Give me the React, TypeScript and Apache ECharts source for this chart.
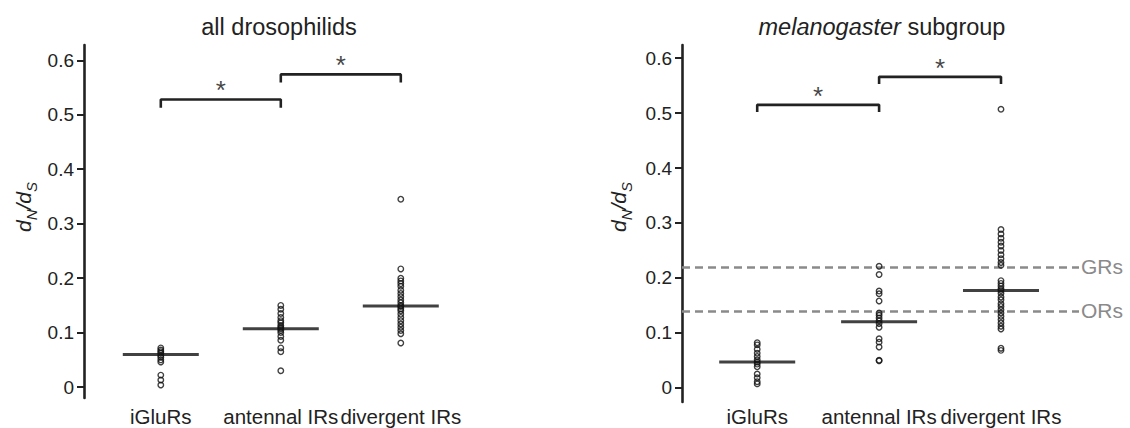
import React, { useEffect, useRef } from "react";
import * as echarts from "echarts";

const FONT = "'Liberation Sans', Arial, Helvetica, sans-serif";
const INK = "#222";
const GREY = "#8a8a8a";

const categories = ["iGluRs", "antennal IRs", "divergent IRs"];
const panelTitles = ["all drosophilids", "{i|melanogaster} subgroup"];
const yTickValues = [0, 0.1, 0.2, 0.3, 0.4, 0.5, 0.6];
const yTickLabels = ["0", "0.1", "0.2", "0.3", "0.4", "0.5", "0.6"];

// all drosophilids
const leftIGluRs = [0.072, 0.068, 0.065, 0.062, 0.058, 0.055, 0.05, 0.046, 0.022, 0.013, 0.004];
const leftAntennal = [0.15, 0.143, 0.135, 0.128, 0.122, 0.118, 0.113, 0.11, 0.107, 0.104, 0.1, 0.093, 0.086, 0.072, 0.065, 0.03];
const leftDivergent = [0.345, 0.217, 0.2, 0.195, 0.19, 0.185, 0.178, 0.172, 0.166, 0.16, 0.155, 0.15, 0.148, 0.144, 0.14, 0.134, 0.128, 0.122, 0.116, 0.11, 0.104, 0.098, 0.081];
const leftMedians = [0.06, 0.107, 0.149];
const leftBrackets = [[1, 2, 0.528], [2, 3, 0.574]];

// melanogaster subgroup
const rightIGluRs = [0.082, 0.078, 0.07, 0.063, 0.057, 0.051, 0.047, 0.043, 0.038, 0.025, 0.018, 0.011, 0.007];
const rightAntennal = [0.221, 0.206, 0.176, 0.171, 0.158, 0.136, 0.132, 0.127, 0.122, 0.117, 0.11, 0.089, 0.083, 0.074, 0.05, 0.049];
const rightDivergent = [0.507, 0.288, 0.28, 0.272, 0.265, 0.258, 0.25, 0.242, 0.235, 0.228, 0.223, 0.195, 0.19, 0.185, 0.18, 0.177, 0.172, 0.165, 0.16, 0.153, 0.148, 0.142, 0.136, 0.13, 0.124, 0.118, 0.112, 0.107, 0.072, 0.068];
const rightMedians = [0.047, 0.12, 0.177];
const rightBrackets = [[1, 2, 0.515], [2, 3, 0.566]];

const refLabels = ["GRs", "ORs"];
const refValues = [0.217, 0.137];

const panels = [
  { groups: [leftIGluRs, leftAntennal, leftDivergent], medians: leftMedians, brackets: leftBrackets, leg: 0.015 },
  { groups: [rightIGluRs, rightAntennal, rightDivergent], medians: rightMedians, brackets: rightBrackets, leg: 0.013 },
];

function buildOption() {
  const series: any[] = [];
  panels.forEach((p, pi) => {
    const medSeries: any = {
      type: "scatter",
      xAxisIndex: pi,
      yAxisIndex: pi,
      symbol: "rect",
      symbolSize: [76, 3],
      itemStyle: { color: "#111" },
      z: 2,
      data: p.medians.map((m, i) => [i + 1, m]),
    };
    if (pi === 1) {
      medSeries.markLine = {
        silent: true,
        symbol: "none",
        z: 1,
        lineStyle: { color: GREY, width: 2.5, type: [8, 5] },
        label: {
          show: true,
          position: "end",
          formatter: "{b}",
          color: GREY,
          fontSize: 21,
          fontFamily: FONT,
          distance: 2,
        },
        data: refValues.map((v, i) => ({ yAxis: v, name: refLabels[i] })),
      };
    }
    series.push(medSeries);
    series.push({
      type: "scatter",
      xAxisIndex: pi,
      yAxisIndex: pi,
      symbol: "circle",
      symbolSize: 5.5,
      z: 3,
      itemStyle: { color: "rgba(0,0,0,0)", borderColor: "#111", borderWidth: 1.4 },
      data: p.groups.flatMap((g, gi) => g.map((v) => [gi + 1, v])),
    });
    p.brackets.forEach((b) => {
      series.push({
        type: "line",
        xAxisIndex: pi,
        yAxisIndex: pi,
        symbol: "none",
        z: 3,
        lineStyle: { color: INK, width: 2.6 },
        data: [
          [b[0], b[2] - p.leg],
          [b[0], b[2]],
          [b[1], b[2]],
          [b[1], b[2] - p.leg],
        ],
      });
    });
    series.push({
      type: "scatter",
      xAxisIndex: pi,
      yAxisIndex: pi,
      symbolSize: 0,
      z: 4,
      label: {
        show: true,
        position: "inside",
        formatter: "*",
        color: "#111",
        fontSize: 26,
        fontFamily: FONT,
        offset: [0, -9],
      },
      data: p.brackets.map((b) => [(b[0] + b[1]) / 2, b[2]]),
    });
  });

  const yAxis = (gi: number, min: number, max: number) => ({
    gridIndex: gi,
    type: "value",
    min,
    max,
    axisLine: { show: true, lineStyle: { color: INK, width: 2.6 } },
    axisTick: { show: true, length: 7, lineStyle: { color: INK, width: 2 }, customValues: yTickValues },
    axisLabel: {
      customValues: yTickValues,
      formatter: (v: number) => {
        const i = yTickValues.findIndex((t) => Math.abs(t - v) < 1e-6);
        return i >= 0 ? yTickLabels[i] : "";
      },
      fontSize: 19,
      color: INK,
      fontFamily: FONT,
      margin: 10,
    },
    splitLine: { show: false },
  });

  const xAxis = (gi: number, min: number, max: number, margin: number) => ({
    gridIndex: gi,
    type: "value",
    min,
    max,
    axisLine: { show: false },
    axisTick: { show: false },
    splitLine: { show: false },
    axisLabel: {
      customValues: [1, 2, 3],
      formatter: (v: number) => categories[Math.round(v) - 1] || "",
      fontSize: 20.5,
      color: INK,
      fontFamily: FONT,
      margin,
    },
  });

  const axisName = (x: number, y: number) => ({
    type: "text",
    x,
    y,
    rotation: Math.PI / 2,
    style: {
      text: "{d|d}{s|N}{d|/d}{s|S}",
      align: "center",
      verticalAlign: "middle",
      textAlign: "center",
      textVerticalAlign: "middle",
      fill: INK,
      fontFamily: FONT,
      fontSize: 21,
      rich: {
        d: { fontStyle: "italic", fontSize: 21, fontFamily: FONT, fill: INK, verticalAlign: "bottom", padding: [0, 0, 5, 0] },
        s: { fontStyle: "italic", fontSize: 15, fontFamily: FONT, fill: INK, verticalAlign: "bottom" },
      },
    },
  });

  const title = (x: number, text: string) => ({
    type: "text",
    x,
    y: 27,
    style: {
      text,
      align: "center",
      verticalAlign: "middle",
      textAlign: "center",
      textVerticalAlign: "middle",
      fill: INK,
      fontFamily: FONT,
      fontSize: 23.5,
      rich: {
        i: { fontStyle: "italic", fontSize: 23.5, fontFamily: FONT, fill: INK },
      },
    },
  });

  return {
    animation: false,
    backgroundColor: "#fff",
    grid: [
      { left: 84, top: 45, width: 388.8, height: 353 },
      { left: 682, top: 45, width: 397, height: 357 },
    ],
    xAxis: [xAxis(0, 0.36, 3.6, 8), xAxis(1, 0.383, 3.64, 4)],
    yAxis: [yAxis(0, -0.02, 0.628), yAxis(1, -0.026, 0.624)],
    graphic: [
      title(279, panelTitles[0]),
      title(882, panelTitles[1]),
      axisName(26, 207),
      axisName(621, 207),
    ],
    series,
  };
}

export default function App() {
  const ref = useRef<HTMLDivElement>(null);
  useEffect(() => {
    if (!ref.current) return;
    const chart = echarts.init(ref.current, undefined, { renderer: "svg" });
    chart.setOption(buildOption() as any);
    return () => chart.dispose();
  }, []);
  return (
    <div
      ref={ref}
      style={{ position: "fixed", left: 0, top: 0, width: 1130, height: 428, background: "#fff" }}
    />
  );
}
